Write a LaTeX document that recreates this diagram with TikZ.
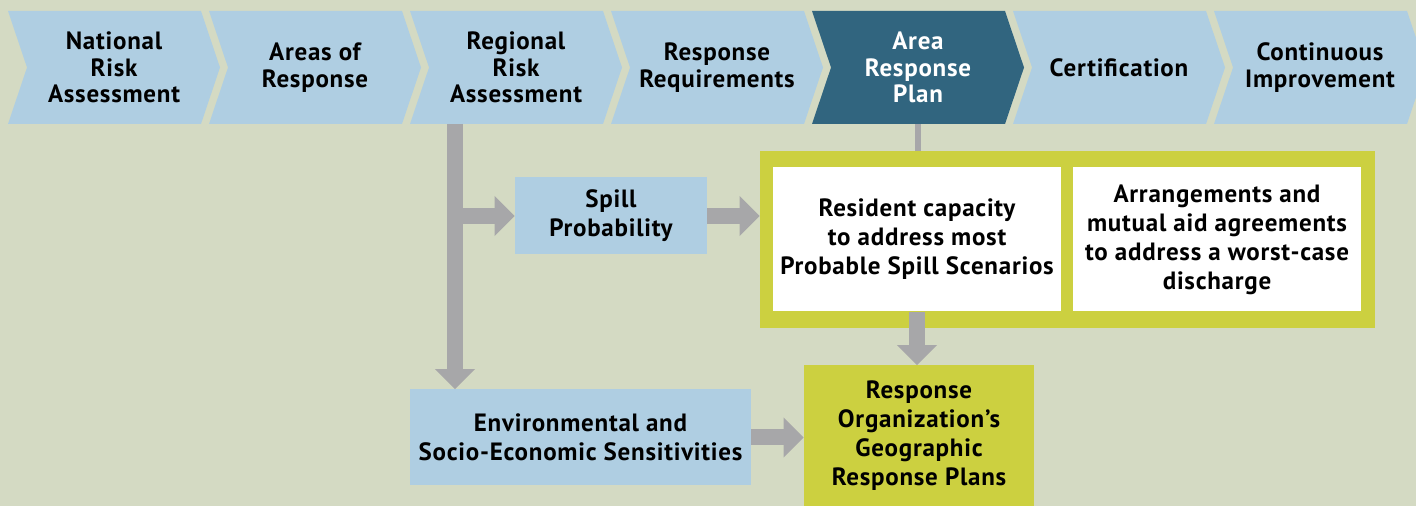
\documentclass[tikz,border=0pt]{standalone}
\usepackage{fontspec}
\setmainfont{PT Sans}[LetterSpace=3]
\usepackage{tikz}
\usetikzlibrary{shapes,arrows,arrows.meta}
\definecolor{bgcol}{RGB}{212,218,195}
\definecolor{lblue}{RGB}{175,206,226}
\definecolor{dteal}{RGB}{49,101,127}
\definecolor{lime}{RGB}{204,208,64}
\definecolor{agrey}{RGB}{167,167,169}
\tikzstyle{line} = [draw=agrey, line width=8pt, -{Triangle[width=19.5pt,length=10pt]}]
\tikzstyle{thinline} = [draw=agrey, line width=2.75pt]
\tikzstyle{stage} = [signal, signal from=west, signal to=east, signal pointer angle=142.8, fill=lblue, minimum width=106pt, minimum height=56.5pt, inner sep=0pt, align=center, node distance=100.5pt, font=\fontsize{12.5}{13.25}\selectfont\bfseries]
\tikzstyle{lbbox} = [rectangle, fill=lblue, inner sep=0pt, align=center, font=\fontsize{12.5}{14.5}\selectfont\bfseries]
\tikzstyle{wbox} = [rectangle, fill=white, minimum width=144pt, minimum height=72pt, inner sep=0pt, align=center, font=\fontsize{12.5}{14.5}\selectfont\bfseries]
\tikzstyle{gbox} = [rectangle, fill=lime, inner sep=0pt, align=center, font=\fontsize{12.5}{14.5}\selectfont\bfseries]

\begin{document}
\begin{tikzpicture}
		\path [use as bounding box, fill=bgcol] (0,0) rectangle (708pt,-253pt);
		
		\node [stage] (nra) at (57pt,-33.75pt) {National\\Risk\\Assessment};
		\node [stage, right of = nra] (aor) {Areas of\\Response};
		\node [stage, right of = aor] (rra) {Regional\\Risk\\Assessment};
		\node [stage, right of = rra] (req) {Response\\Requirements};
		\node [stage, right of = req, fill=dteal, text=white] (arp) {Area\\Response\\Plan};
		\node [stage, right of = arp] (cert) {Certification};
		\node [stage, right of = cert] (ci) {Continuous\\Improvement};
		
		\node [lbbox, below of = rra, node distance = 74.25pt, xshift = 47.5pt, minimum width = 96pt, minimum height = 38.5pt] (spill) {Spill\\Probability};
		
		\node [gbox, below of = arp, node distance = 86pt, xshift = 74.75pt, minimum width = 307.5pt, minimum height = 88.5pt] (frame) {};
		\path [thinline] (arp.south) to (arp.south |- frame.north);
		\node [wbox, left of = frame, node distance = 75.25pt] (res) {Resident capacity\\to address most\\Probable Spill Scenarios};
		\node [wbox, right of = res, node distance = 150pt] (arr) {Arrangements and\\mutual aid agreements\\to address a worst-case\\discharge};
		
		\node [gbox, below of = res, node distance = 98.25pt, xshift = 1pt, minimum width = 115pt, minimum height = 70.5pt] (geo) {Response\\Organization’s\\Geographic\\Response Plans};
		\node [lbbox, left of = geo, node distance = 169.25pt, yshift = -0.75pt, minimum width = 170.5pt, minimum height = 48pt] (env) {Environmental and\\Socio-Economic Sensitivities};
		
		\coordinate [below of = rra, node distance = 28.25pt, xshift = -30.5pt] (split);
		\path [line] (split) to (split |- env.north);
		\path [line] (split |- spill.west) to (spill.west);
		\path [line] (spill.east) to (spill.east -| frame.west);
		\path [line] (res.south) to (res.south |- geo.north);
		\path [line] (env.east) to (env.east -| geo.west);
\end{tikzpicture}
\end{document}
